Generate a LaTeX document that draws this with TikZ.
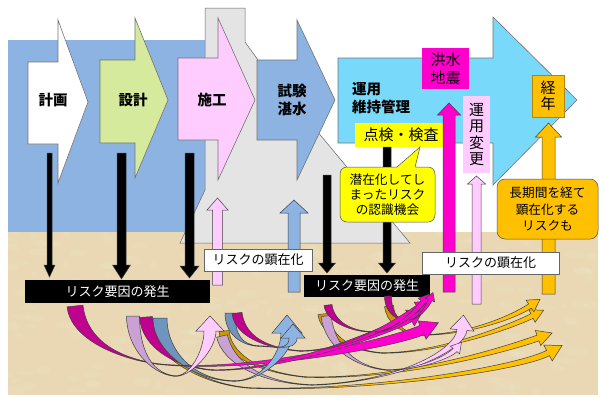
\documentclass[tikz,border=0pt]{standalone}
\usepackage{fontspec}
\setmainfont{Noto Sans CJK JP}
\usetikzlibrary{calc}

\definecolor{skyb}{HTML}{8DB3E2}
\definecolor{ground}{HTML}{E9D8B3}
\definecolor{groundlight}{HTML}{F4E9D2}
\definecolor{dam}{HTML}{E4E4E4}
\definecolor{plangreen}{HTML}{D5EA9C}
\definecolor{pinkc}{HTML}{FFCCFF}
\definecolor{cyanop}{HTML}{78D9FB}
\definecolor{magc}{HTML}{FF00CC}
\definecolor{darkmag}{HTML}{C0008F}
\definecolor{orangec}{HTML}{FFC000}
\definecolor{ochre}{HTML}{CC9900}
\definecolor{lav}{HTML}{C9A1D3}
\definecolor{steel}{HTML}{6F94BD}
\definecolor{yel}{HTML}{FFFF00}
\definecolor{edge}{HTML}{404040}

\tikzset{
  bigarrow/.style={draw=black!55, line width=0.6pt},
  blk/.style={draw=edge, line width=0.5pt},
  title/.style={font=\fontsize{14.5}{18}\selectfont\bfseries, align=center, inner sep=0pt},
  label/.style={font=\fontsize{15}{18}\selectfont, align=center, inner sep=0pt},
  vlabel/.style={font=\fontsize{15}{16.4}\selectfont, align=center, inner sep=0pt},
  small/.style={font=\fontsize{12.7}{15}\selectfont, align=center, inner sep=0pt},
  blackbox/.style={fill=black, text=white, font=\fontsize{13}{15}\selectfont, inner sep=0pt},
  whitebox/.style={fill=white, draw=black!60, line width=0.5pt, font=\fontsize{13}{15}\selectfont, inner sep=0pt},
}

% block arrow: fill, x centre, tail y, head base y, tip y, shaft half width, head half width
\newcommand\blockarrow[7]{%
  \filldraw[fill=#1, blk] (#2-#6,#3) -- (#2-#6,#4) -- (#2-#7,#4) -- (#2,#5)
    -- (#2+#7,#4) -- (#2+#6,#4) -- (#2+#6,#3) -- cycle;}

% tapered ribbon: fill, start, c1, c2, end, start half width, end half width
\newcommand\ribbon[7]{%
  \coordinate (rs) at (#2); \coordinate (rc1) at (#3);
  \coordinate (rc2) at (#4); \coordinate (re) at (#5);
  \coordinate (rs1) at ($(rs)!#6!90:(rc1)$);
  \coordinate (rs2) at ($(rs)!#6!-90:(rc1)$);
  \coordinate (rc1a) at ($(rc1)+(rs1)-(rs)$);
  \coordinate (rc1b) at ($(rc1)+(rs2)-(rs)$);
  \coordinate (re1) at ($(re)!#7!-90:(rc2)$);
  \coordinate (re2) at ($(re)!#7!90:(rc2)$);
  \coordinate (rc2a) at ($(rc2)+(re1)-(re)$);
  \coordinate (rc2b) at ($(rc2)+(re2)-(re)$);
  \filldraw[fill=#1, blk] (rs1) .. controls (rc1a) and (rc2a) .. (re1)
    -- (re2) .. controls (rc2b) and (rc1b) .. (rs2) -- cycle;}

% widening ribbon ending in a head: fill, start, c1, c2, end, end half width, head half width, head length
\newcommand\ribarrow[8]{%
  \coordinate (rs) at (#2); \coordinate (rc1) at (#3);
  \coordinate (rc2) at (#4); \coordinate (re) at (#5);
  \coordinate (rs1) at ($(rs)!0.3pt!90:(rc1)$);
  \coordinate (rs2) at ($(rs)!0.3pt!-90:(rc1)$);
  \coordinate (rc1a) at ($(rc1)+(rs1)-(rs)$);
  \coordinate (rc1b) at ($(rc1)+(rs2)-(rs)$);
  \coordinate (re1) at ($(re)!#6!-90:(rc2)$);
  \coordinate (re2) at ($(re)!#6!90:(rc2)$);
  \coordinate (rc2a) at ($(rc2)+(re1)-(re)$);
  \coordinate (rc2b) at ($(rc2)+(re2)-(re)$);
  \coordinate (rh1) at ($(re)!#7!-90:(rc2)$);
  \coordinate (rh2) at ($(re)!#7!90:(rc2)$);
  \coordinate (rt) at ($(re)!-#8!(rc2)$);
  \filldraw[fill=#1, blk] (rs1) .. controls (rc1a) and (rc2a) .. (re1)
    -- (rh1) -- (rt) -- (rh2)
    -- (re2) .. controls (rc2b) and (rc1b) .. (rs2) -- cycle;}

\begin{document}
\begin{tikzpicture}[x=1pt, y=-1pt]
\useasboundingbox (0,0) rectangle (601,397);
\fill[white] (0,0) rectangle (601,397);

% sky and ground
\fill[skyb] (8,40) rectangle (215,232);
\fill[ground] (8,232) rectangle (598,395);
\begin{scope}
  \clip (8,232) rectangle (598,395);
  \pgfmathsetseed{11}
  \foreach \i in {1,...,260} {
    \pgfmathsetmacro\gx{8+590*rnd}
    \pgfmathsetmacro\gy{232+163*rnd}
    \pgfmathsetmacro\ga{3+8*rnd}
    \pgfmathsetmacro\gb{2+3*rnd}
    \fill[groundlight, opacity=0.18] (\gx,\gy) ellipse [x radius=\ga, y radius=\gb];
  }
\end{scope}

% dam body
\filldraw[fill=dam, draw=black!60, line width=0.5pt]
  (205,8) -- (245,8) -- (245,42) -- (258,60) -- (410,243) -- (180,243) -- (205,190) -- cycle;

% project stages
\filldraw[fill=white, bigarrow] (28,62) -- (58,62) -- (58,20) -- (88,102) -- (58,183) -- (58,144) -- (28,144) -- cycle;
\filldraw[fill=plangreen, bigarrow] (100,60) -- (135,60) -- (135,18) -- (168,100) -- (135,178) -- (135,143) -- (100,143) -- cycle;
\filldraw[fill=pinkc, bigarrow] (178,58) -- (218,58) -- (218,18) -- (255,100) -- (218,180) -- (218,140) -- (178,140) -- cycle;
\filldraw[fill=skyb, bigarrow] (257,60) -- (297,60) -- (297,20) -- (335,100) -- (297,180) -- (297,140) -- (257,140) -- cycle;
\filldraw[fill=cyanop, bigarrow] (338,58) -- (493,58) -- (493,17) -- (577,100) -- (493,185) -- (493,143) -- (338,143) -- cycle;

\node[title] (plan) at (53,100) {計画};
\node[title] (design) at (133,100) {設計};
\node[title] (build) at (212,100) {施工};
\node[title] (test) at (292,100) {試験\\湛水};
\node[title, align=left, anchor=west] (operate) at (352,98) {運用\\維持管理};

% external causes
\node[label, fill=magc, minimum width=47pt, minimum height=41pt] (flood) at (445.5,68.5) {洪水\\地震};
\node[vlabel, fill=orangec, draw=orangec!70!black, line width=0.3pt, minimum width=32pt, minimum height=42pt] (aging) at (548,96) {経\\年};
\node[vlabel, fill=pinkc, minimum width=27pt, minimum height=77pt] (change) at (476.5,134.5) {運\\用\\変\\更};
\node[label, fill=yel, minimum width=92pt, minimum height=24pt] (inspect) at (401,135) {点検・検査};

% risk factors arising in each stage
\blockarrow{black}{49.5}{153}{265}{277}{2.5}{5.5}
\blockarrow{black}{121.5}{153}{265}{279}{4.5}{9}
\blockarrow{black}{189.5}{153}{266}{278}{4.5}{9.5}
\blockarrow{black}{327}{175}{263}{273}{4}{8.5}
\blockarrow{black}{387}{147}{263}{273}{4}{8.5}

% callout on inspections
\node[small, fill=yel, draw=black!70, line width=0.5pt, rounded corners=7pt,
  minimum width=95pt, minimum height=55pt] (notice) at (387.5,194.5)
  {潜在化してし\\まったリスク\\の認識機会};
\fill[yel] (396.5,168) -- (420,147) -- (415.5,168) -- cycle;
\draw[black!70, line width=0.5pt] (397,167) -- (420,147) -- (415,167);

% risks becoming apparent
\blockarrow{pinkc}{217.5}{285}{210}{198}{5}{10.5}
\blockarrow{skyb}{294}{292}{213}{200}{6}{14}
\blockarrow{magc}{449}{292}{115}{103}{6}{11.5}
\blockarrow{pinkc}{476.5}{304}{184}{176}{4.5}{9}
\blockarrow{orangec}{548.5}{294}{137}{123}{6.5}{13}

\node[small, fill=orangec, draw=black!70, line width=0.5pt, rounded corners=8pt,
  minimum width=101pt, minimum height=60pt, font=\fontsize{12.7}{16.5}\selectfont] (longterm) at (547.5,209)
  {長期間を経て\\顕在化する\\リスクも};

\node[whitebox, minimum width=108pt, minimum height=22pt] (appearL) at (258,260) {リスクの顕在化};
\node[whitebox, minimum width=137pt, minimum height=22pt] (appearR) at (490.5,263) {リスクの顕在化};
\node[blackbox, minimum width=185pt, minimum height=23pt] (causeL) at (117.5,291.5) {リスク要因の発生};
\node[blackbox, minimum width=126pt, minimum height=22pt] (causeR) at (367,286) {リスク要因の発生};

% hidden paths from cause to appearance: dark tails
\ribbon{ochre}{152,322}{155,352}{195,384}{250,388}{4pt}{0.3pt}
\ribbon{darkmag}{75,306}{78,335}{110,357}{158,364}{8pt}{0.3pt}
\ribbon{lav}{133,316}{133,347}{150,373}{174,376}{6.5pt}{0.3pt}
\ribbon{darkmag}{146,317}{148,347}{175,367}{212,370}{6.5pt}{0.3pt}
\ribbon{steel}{160,318}{160,352}{195,381}{235,381}{7pt}{0.3pt}
\ribbon{ochre}{224,331}{226,352}{255,372}{305,377}{5pt}{0.3pt}
\ribbon{lav}{222,336}{228,362}{260,383}{312,385}{5.5pt}{0.3pt}
\ribbon{steel}{230,313}{230,335}{242,345}{258,346}{5pt}{0.3pt}
\ribbon{darkmag}{237,313}{240,336}{265,348}{300,351}{5pt}{0.3pt}
\ribbon{ochre}{323,314}{325,332}{345,350}{382,353}{5pt}{0.3pt}
\ribbon{lav}{326,316}{330,347}{355,367}{387,370}{5pt}{0.3pt}
\ribbon{darkmag}{328,305}{330,321}{350,332}{375,332}{4pt}{0.3pt}
\ribbon{ochre}{389,306}{391,322}{400,333}{420,335}{4.5pt}{0.3pt}
\ribbon{darkmag}{388,296}{388,315}{400,322}{410,320}{3.5pt}{0.3pt}

% fronts rising to the point where the risk appears
\ribarrow{orangec}{250,388}{370,392}{520,368}{548,353}{3pt}{9pt}{16pt}
\ribarrow{orangec}{305,377}{405,380}{510,348}{538,338}{3pt}{8pt}{15pt}
\ribarrow{orangec}{382,353}{440,353}{510,327}{532,316}{2.5pt}{7pt}{13pt}
\ribarrow{orangec}{420,335}{470,335}{515,316}{530,306}{2.5pt}{7pt}{12pt}
\ribarrow{pinkc}{312,385}{400,382}{460,350}{462,330}{5pt}{12pt}{15pt}
\ribarrow{pinkc}{387,370}{420,370}{450,356}{455,350}{2.5pt}{6pt}{10pt}
\ribarrow{magc}{158,364}{250,374}{395,342}{422,330}{5pt}{10pt}{18pt}
\ribarrow{magc}{212,370}{280,372}{385,332}{410,318}{4pt}{9pt}{15pt}
\ribarrow{magc}{300,351}{350,351}{400,320}{418,308}{3pt}{7pt}{12pt}
\ribarrow{magc}{375,332}{395,332}{415,312}{423,302}{2.5pt}{6pt}{10pt}
\ribarrow{magc}{410,320}{420,318}{428,305}{430,300}{2pt}{5pt}{8pt}
\ribarrow{skyb}{235,381}{260,381}{287,355}{287,333}{6pt}{15pt}{18pt}
\ribarrow{skyb}{258,346}{272,346}{293,352}{293,338}{4pt}{12pt}{14pt}
\ribarrow{pinkc}{174,376}{190,378}{210,350}{210,331}{6pt}{14pt}{15pt}

\end{tikzpicture}
\end{document}
